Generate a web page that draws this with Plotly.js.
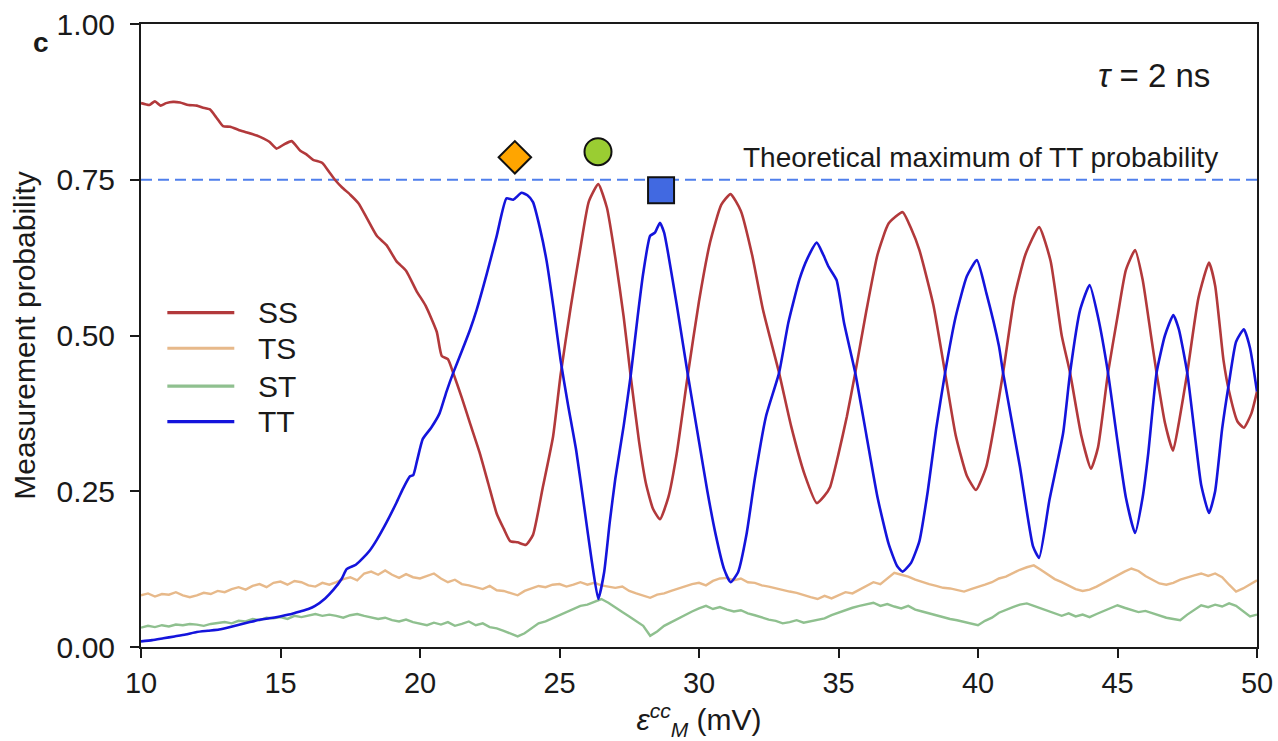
<!DOCTYPE html>
<html>
<head>
<meta charset="utf-8">
<script src="https://cdn.plot.ly/plotly-3.0.1.min.js"></script>
<style>html,body{margin:0;padding:0;background:#fff;}#chart{width:1278px;height:741px;}</style>
</head>
<body>
<div id="chart"></div>
<script>
// ---------- data ----------
const seriesNames = ['SS', 'TS', 'ST', 'TT'];

const ssX = [10.0,10.3,10.5,10.7,10.9,11.15,11.4,11.7,12.0,12.2,12.47,12.7,12.94,13.2,13.5,13.8,14.15,14.4,14.6,14.86,15.1,15.4,15.7,15.95,16.17,16.5,16.75,16.95,17.2,17.5,17.8,18.1,18.45,18.8,19.16,19.5,19.88,20.2,20.6,20.78,21.0,21.19,21.5,21.8,22.15,22.45,22.75,23.0,23.23,23.5,23.8,24.05,24.4,24.77,25.04,25.4,25.73,26.05,26.39,26.7,27.0,27.3,27.55,27.85,28.1,28.35,28.6,28.9,29.2,29.6,30.0,30.4,30.8,31.13,31.5,31.9,32.3,32.87,33.3,33.8,34.22,34.5,34.7,35.0,35.3,35.6,36.0,36.4,36.8,37.3,37.6,37.9,38.4,38.82,39.2,39.6,39.93,40.3,40.6,40.9,41.3,41.7,42.19,42.6,43.0,43.3,43.7,44.05,44.3,44.66,45.0,45.3,45.63,45.9,46.2,46.4,46.7,46.99,47.2,47.5,47.9,48.28,48.5,48.8,49.0,49.3,49.53,49.8,50.0];
const ssY = [0.873,0.870,0.876,0.869,0.873,0.875,0.874,0.870,0.869,0.866,0.863,0.850,0.836,0.835,0.830,0.826,0.821,0.816,0.811,0.800,0.806,0.812,0.797,0.790,0.782,0.777,0.762,0.750,0.738,0.726,0.712,0.688,0.660,0.645,0.619,0.604,0.571,0.548,0.506,0.467,0.462,0.440,0.400,0.358,0.310,0.262,0.214,0.190,0.170,0.168,0.164,0.180,0.256,0.338,0.437,0.545,0.635,0.715,0.743,0.705,0.625,0.530,0.435,0.330,0.262,0.222,0.205,0.240,0.310,0.437,0.555,0.650,0.710,0.727,0.700,0.630,0.540,0.440,0.355,0.275,0.231,0.243,0.257,0.310,0.370,0.440,0.540,0.630,0.680,0.698,0.672,0.637,0.549,0.440,0.340,0.275,0.252,0.290,0.360,0.440,0.560,0.630,0.674,0.620,0.500,0.440,0.340,0.286,0.320,0.440,0.530,0.605,0.637,0.590,0.500,0.440,0.360,0.315,0.360,0.440,0.560,0.617,0.580,0.460,0.410,0.362,0.352,0.375,0.410];

const ttX = [10.0,10.4,10.8,11.2,11.6,12.0,12.4,12.8,13.2,13.55,13.9,14.3,14.6,14.98,15.3,15.7,16.0,16.24,16.6,16.9,17.2,17.37,17.7,17.96,18.2,18.45,18.8,19.16,19.4,19.64,19.76,19.9,20.1,20.4,20.7,20.95,21.19,21.5,21.8,22.03,22.4,22.75,23.1,23.34,23.64,23.85,24.05,24.3,24.54,24.8,25.04,25.3,25.6,25.9,26.15,26.39,26.6,26.8,27.0,27.3,27.55,27.8,28.0,28.25,28.42,28.6,28.75,28.9,29.2,29.6,30.0,30.3,30.6,30.9,31.13,31.4,31.7,32.0,32.4,32.87,33.2,33.6,33.9,34.22,34.45,34.65,34.93,35.2,35.6,36.0,36.4,36.8,37.1,37.3,37.6,37.9,38.2,38.5,38.82,39.2,39.6,39.96,40.3,40.75,40.9,41.5,41.97,42.19,42.56,43.05,43.3,43.66,44.0,44.3,44.66,45.0,45.3,45.63,45.9,46.1,46.4,46.7,47.0,47.2,47.5,47.8,48.0,48.28,48.5,48.75,49.0,49.25,49.53,49.75,50.0];
const ttY = [0.009,0.011,0.014,0.017,0.020,0.024,0.026,0.028,0.032,0.036,0.040,0.044,0.046,0.049,0.052,0.057,0.061,0.066,0.078,0.092,0.110,0.125,0.132,0.143,0.155,0.172,0.200,0.232,0.255,0.274,0.276,0.300,0.334,0.352,0.375,0.410,0.440,0.475,0.510,0.541,0.600,0.660,0.720,0.718,0.729,0.725,0.714,0.672,0.619,0.540,0.460,0.390,0.315,0.220,0.140,0.077,0.120,0.200,0.270,0.355,0.435,0.530,0.600,0.660,0.665,0.681,0.665,0.630,0.550,0.437,0.330,0.250,0.180,0.125,0.104,0.120,0.180,0.270,0.370,0.440,0.520,0.590,0.625,0.649,0.630,0.610,0.589,0.520,0.440,0.340,0.240,0.165,0.130,0.121,0.135,0.170,0.250,0.350,0.440,0.530,0.595,0.621,0.568,0.483,0.440,0.290,0.162,0.143,0.236,0.343,0.440,0.541,0.581,0.530,0.440,0.330,0.240,0.183,0.240,0.310,0.440,0.500,0.533,0.510,0.440,0.330,0.260,0.215,0.250,0.350,0.425,0.490,0.510,0.480,0.410];

// TS and ST sampled every 0.25 mV from 10 to 50
const noiseX = Array.from({length: 161}, (_, i) => 10 + i * 0.25);
const tsY = [
 .083,.086,.081,.085, .084,.088,.083,.080, .083,.087,.085,.090, .088,.093,.096,.092,
 .098,.101,.096,.103, .105,.100,.106,.104, .099,.097,.103,.100, .104,.109,.112,.107,
 .118,.121,.116,.123, .116,.111,.117,.112, .110,.114,.118,.110, .104,.108,.101,.099,
 .096,.093,.098,.091, .090,.087,.083,.090, .094,.098,.096,.100, .101,.097,.100,.104,
 .100,.103,.099,.097, .095,.097,.090,.086, .082,.079,.084,.086, .090,.094,.097,.101,
 .103,.099,.106,.110, .111,.107,.110,.104, .103,.099,.097,.094, .092,.089,.087,.083,
 .080,.077,.082,.078, .083,.088,.086,.092, .098,.104,.101,.110, .119,.116,.113,.108,
 .104,.101,.098,.095, .094,.091,.089,.093, .096,.100,.104,.110, .113,.119,.124,.128,
 .131,.124,.116,.109, .104,.098,.093,.090, .092,.097,.103,.110, .116,.121,.126,.122,
 .114,.108,.102,.100, .103,.108,.112,.115, .118,.114,.118,.112, .100,.089,.094,.101,
 .107];
const stY = [
 .031,.034,.032,.035, .033,.036,.035,.037, .036,.034,.037,.039, .040,.038,.042,.041,
 .045,.043,.047,.046, .048,.045,.050,.048, .051,.053,.050,.052, .050,.047,.051,.053,
 .050,.048,.045,.047, .043,.041,.044,.040, .037,.035,.039,.036, .040,.034,.037,.041,
 .035,.038,.032,.030, .026,.021,.017,.022, .030,.038,.041,.046, .050,.055,.061,.066,
 .068,.072,.077,.071, .063,.056,.049,.042, .034,.018,.025,.034, .040,.045,.051,.057,
 .062,.066,.061,.064, .060,.057,.059,.054, .051,.047,.044,.042, .038,.040,.043,.039,
 .041,.044,.046,.051, .055,.060,.063,.066, .068,.071,.066,.069, .065,.062,.066,.060,
 .057,.054,.050,.047, .045,.043,.040,.038, .035,.042,.047,.055, .060,.064,.068,.070,
 .066,.062,.057,.053, .050,.054,.049,.052, .048,.053,.058,.062, .067,.063,.060,.056,
 .058,.054,.050,.047, .045,.043,.052,.060, .067,.064,.068,.065, .070,.066,.057,.049,
 .052];

const theoreticalMax = 0.75;
const markerX = [23.4, 26.38, 28.64];
const markerY = [0.786, 0.795, 0.733];
const markerSymbols = ['diamond', 'circle', 'square'];
const markerColors = ['#ffa500', '#9acd32', '#4169e1'];
const markerSizes = [25, 27, 26];

const xTicks = [10, 15, 20, 25, 30, 35, 40, 45, 50];
const yTicks = [0, 0.25, 0.5, 0.75, 1.0];
const yTickText = ['0.00', '0.25', '0.50', '0.75', '1.00'];

// ---------- styles ----------
const colors = ['#b2393b', '#e7b98a', '#8fc08f', '#1414dc'];
const FONT = 'Liberation Sans, Arial, Helvetica, sans-serif';
const INK = '#1a1a1a';

const xs = [ssX, noiseX, noiseX, ttX];
const ys = [ssY, tsY, stY, ttY];
const smooth = [true, false, false, true];

const traces = [];
traces.push({
  x: [10, 50], y: [theoreticalMax, theoreticalMax], mode: 'lines',
  line: {color: '#4f7fec', width: 2, dash: '11px,6px'},
  showlegend: false, hoverinfo: 'skip'
});
for (let i = 0; i < 4; i++) {
  traces.push({
    x: xs[i], y: ys[i], name: seriesNames[i], mode: 'lines',
    line: smooth[i] ? {color: colors[i], width: 2.6, shape: 'spline', smoothing: 0.5}
                    : {color: colors[i], width: 2.4},
    showlegend: false
  });
}
traces.push({
  x: markerX, y: markerY, mode: 'markers', showlegend: false,
  marker: {symbol: markerSymbols, color: markerColors, size: markerSizes, opacity: 1,
           line: {color: '#111', width: 2}}
});

// custom legend (line samples + labels) placed in paper coordinates
const legY = [0.5366, 0.4795, 0.4189, 0.3616];
const shapes = [];
const annotations = [];
for (let i = 0; i < 4; i++) {
  shapes.push({type: 'line', xref: 'paper', yref: 'paper', x0: 0.0236, x1: 0.0836,
               y0: legY[i], y1: legY[i], line: {color: colors[i], width: 3.2}});
  annotations.push({xref: 'paper', yref: 'paper', x: 0.103, y: legY[i], xanchor: 'left',
                    yanchor: 'middle', showarrow: false, text: seriesNames[i],
                    font: {family: FONT, size: 30, color: INK}});
}
annotations.push({xref: 'paper', yref: 'paper', x: -0.0896, y: 0.971, xanchor: 'center',
                  yanchor: 'middle', showarrow: false, text: '<b>c</b>',
                  font: {family: FONT, size: 28, color: INK}});
annotations.push({xref: 'x', yref: 'y', x: 48.39, y: 0.918, xanchor: 'right', yanchor: 'middle',
                  showarrow: false, text: '<i>τ</i> = 2 ns',
                  font: {family: FONT, size: 33, color: INK}});
annotations.push({xref: 'x', yref: 'y', x: 48.67, y: 0.785, xanchor: 'right', yanchor: 'middle',
                  showarrow: false, text: 'Theoretical maximum of TT probability',
                  font: {family: FONT, size: 28, color: INK}});

const layout = {
  width: 1278, height: 741,
  margin: {l: 141, r: 21, t: 24, b: 94},
  paper_bgcolor: '#fff', plot_bgcolor: '#fff',
  font: {family: FONT, color: INK},
  showlegend: false,
  xaxis: {
    range: [10, 50], tickvals: xTicks, ticks: 'outside', ticklen: 9, tickwidth: 2,
    tickcolor: INK, showline: true, linewidth: 2, linecolor: INK, mirror: true,
    showgrid: false, zeroline: false, tickfont: {size: 29, family: FONT, color: INK},
    title: {text: '<i>ε</i><sup><i>cc</i></sup><sub><i>M</i></sub> (mV)', font: {size: 30, family: FONT, color: INK}, standoff: 4}
  },
  yaxis: {
    range: [0, 1], tickvals: yTicks, ticktext: yTickText, ticks: 'outside', ticklen: 9, tickwidth: 2,
    tickcolor: INK, showline: true, linewidth: 2, linecolor: INK, mirror: true,
    showgrid: false, zeroline: false, tickfont: {size: 30, family: FONT, color: INK},
    ticklabelstandoff: 9,
    title: {text: 'Measurement probability', font: {size: 30, family: FONT, color: INK}, standoff: 12}
  },
  shapes: shapes,
  annotations: annotations
};

Plotly.newPlot('chart', traces, layout, {displayModeBar: false, staticPlot: true});
</script>
</body>
</html>
